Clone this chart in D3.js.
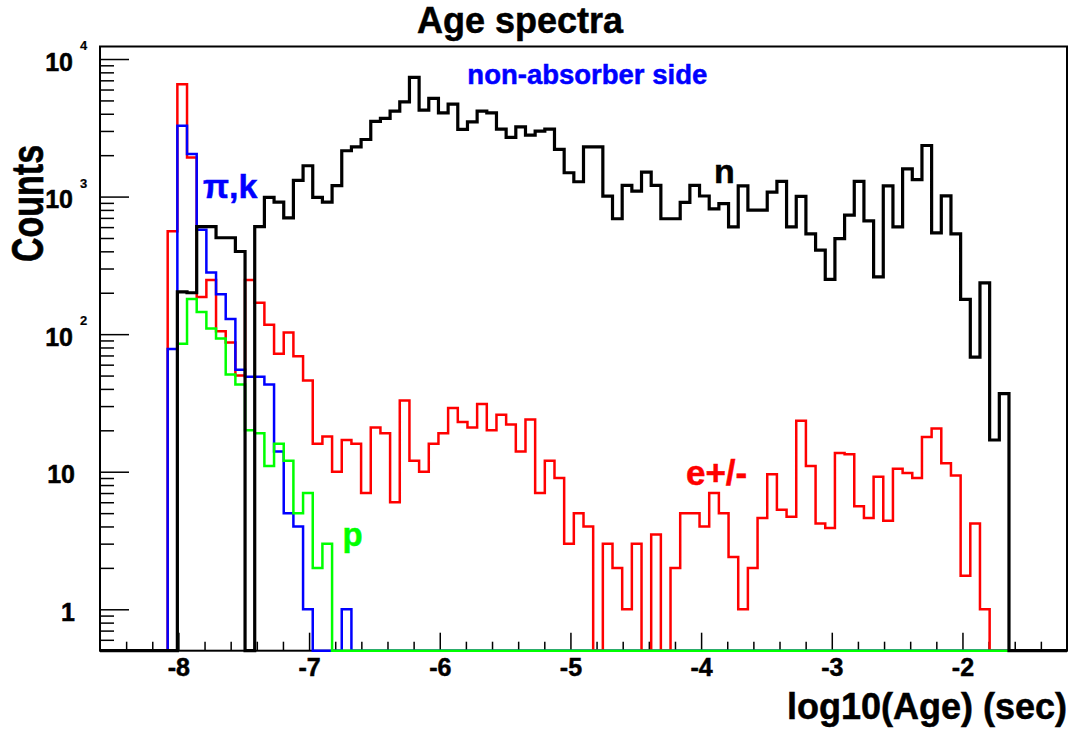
<!DOCTYPE html>
<html>
<head>
<meta charset="utf-8">
<script src="https://cdn.jsdelivr.net/npm/d3@7"></script>
<style>
  html, body { margin: 0; padding: 0; background: #fff; }
  svg { display: block; font-family: "Liberation Sans", Arial, Helvetica, sans-serif; font-weight: bold; }
  svg text { paint-order: stroke; stroke-width: 0.5px; }
</style>
</head>
<body>
<div id="chart"></div>
<script>
// binning of the histograms (log10 of age, 100 bins)
const xMin = -8.6, xMax = -1.2, nBins = 100;
const yMin = 0.5, yMax = 12330;

// bin contents, each list starts at the given bin index
const nStart = 8;
const nCounts = [203, 200, 605, 605, 502, 502, 399, 0, 605, 986, 911, 700, 1312, 1676, 986, 911,
  1202, 2153, 2300, 2600, 3520, 3700, 4180, 4886, 7350, 4254, 5170, 4062, 4700, 3077, 3497, 4180,
  4062, 3097, 2692, 3214, 2800, 2994, 3097, 2204, 1490, 1282, 2301, 2301, 1009, 690, 1206, 1096,
  1507, 1206, 690, 690, 908, 1206, 1010, 813, 888, 602, 1198, 798, 798, 1077, 1288, 602, 1002,
  535, 408, 250, 494, 734, 1288, 667, 261, 1198, 602, 1588, 1327, 2351, 544, 1013, 535, 179, 68,
  236, 17, 37];

const eStart = 7;
const eCounts = [560, 6550, 1925, 186, 248, 105, 87, 50, 248, 169, 117, 72, 103, 69, 46, 16, 18,
  10, 17, 16, 7, 21, 19, 6, 33, 12, 10, 16, 19, 29, 23, 21, 31, 20, 26, 22, 14, 24, 7, 12, 9, 3,
  5, 4, 0, 3, 2, 1, 3, 0, 3.5, 0, 2, 5, 5, 4, 7, 5, 2.4, 1, 2, 4.6, 9.6, 5.3, 4.7, 23.5, 11, 4.2,
  3.9, 13.7, 13.4, 5.6, 4.6, 9.2, 4.4, 10.5, 9.8, 9, 17.9, 20.6, 11.5, 9.4, 1.75, 4.2, 1];

const piStart = 7;
const piCounts = [78, 3266, 2042, 574, 281, 195, 129, 55, 49, 49, 43, 14, 5, 4, 1, 0, 0, 0, 1];

const pStart = 8;
const pCounts = [85, 180, 145, 110, 93, 51, 43, 20, 19, 11, 16, 12, 5, 7, 2, 3];

const xTicks = [-8, -7, -6, -5, -4, -3, -2];
const yTicks = [1, 10, 100, 1000, 10000];

// ---------------------------------------------------------------------------

const W = 1077, H = 731;
const margin = { left: 100, right: 10, top: 46.5, bottom: 80.3 };

const svg = d3.select('#chart').append('svg')
    .attr('width', W)
    .attr('height', H);

const x = d3.scaleLinear().domain([xMin, xMax]).range([margin.left, W - margin.right]);
const y = d3.scaleLog().domain([yMin, yMax]).range([H - margin.bottom, margin.top]).clamp(true);

const x0 = x.range()[0], x1 = x.range()[1];
const yB = y.range()[0], yT = y.range()[1];

// ── Axes (drawn first, the histograms sit on top of them) ──────────────────
const binW = (xMax - xMin) / nBins;
const xMinor = d3.range(-8.4, -1.3, 0.2)
    .map(v => Math.round(v * 10) / 10)
    .filter(v => !Number.isInteger(v));

svg.append('g')
    .attr('transform', `translate(0,${yB})`)
    .call(d3.axisBottom(x).tickValues(xMinor).tickSizeInner(-9).tickSizeOuter(0).tickFormat(''))
    .call(g => g.select('.domain').remove())
    .selectAll('line').attr('stroke', '#000').attr('stroke-width', 1.5);

svg.append('g')
    .attr('transform', `translate(0,${yB})`)
    .call(d3.axisBottom(x).tickValues(xTicks).tickSizeInner(-18).tickSizeOuter(0)
        .tickPadding(8).tickFormat(d => d3.format('d')(d).replace('−', '-')))
    .call(g => g.select('.domain').remove())
    .call(g => g.selectAll('line').attr('stroke', '#000').attr('stroke-width', 1.5))
    .call(g => g.selectAll('text')
        .attr('fill', '#000')
        .attr('stroke', '#000')
        .style('font-size', '25px')
        .style('font-weight', 'bold'));

const yMinor = [];
[0.1, 1, 10, 100, 1000].forEach(dec => {
    for (let m = 2; m <= 9; m++) {
        const v = m * dec;
        if (v >= yMin && v <= yMax) yMinor.push(v);
    }
});

svg.append('g')
    .attr('transform', `translate(${x0},0)`)
    .call(d3.axisLeft(y).tickValues(yMinor).tickSizeInner(-14).tickSizeOuter(0).tickFormat(''))
    .call(g => g.select('.domain').remove())
    .selectAll('line').attr('stroke', '#000').attr('stroke-width', 1.5);

svg.append('g')
    .attr('transform', `translate(${x0},0)`)
    .call(d3.axisLeft(y).tickValues(yTicks).tickSizeInner(-29).tickSizeOuter(0).tickFormat(''))
    .call(g => g.select('.domain').remove())
    .selectAll('line').attr('stroke', '#000').attr('stroke-width', 1.5);

// y tick labels: 1, 10, then 10^n with a raised exponent
const yLab = svg.append('g').attr('fill', '#000').attr('stroke', '#000');
yTicks.forEach(v => {
    const p = Math.round(Math.log10(v));
    if (p < 2) {
        yLab.append('text')
            .attr('x', 75).attr('y', y(v) + 11.5)
            .attr('text-anchor', 'end')
            .style('font-size', '25px')
            .text(String(v));
    } else {
        yLab.append('text')
            .attr('x', 73).attr('y', y(v) + 11.5)
            .attr('text-anchor', 'end')
            .style('font-size', '25px')
            .text('10');
        yLab.append('text')
            .attr('x', 80).attr('y', y(v) - 9)
            .style('font-size', '13px')
            .style('stroke-width', '0.2px')
            .text(String(p));
    }
});

// frame
svg.append('rect')
    .attr('x', x0).attr('y', yT)
    .attr('width', x1 - x0).attr('height', yB - yT)
    .attr('fill', 'none')
    .attr('stroke', '#000')
    .attr('stroke-width', 2);

// ── Histograms ─────────────────────────────────────────────────────────────
const series = [
    { key: 'e',  start: eStart,  counts: eCounts,  color: '#ff0000', width: 2.5 },
    { key: 'pi', start: piStart, counts: piCounts, color: '#0000ff', width: 2.5 },
    { key: 'p',  start: pStart,  counts: pCounts,  color: '#00ff00', width: 2.5 },
    { key: 'n',  start: nStart,  counts: nCounts,  color: '#000000', width: 3.2 }
];

const stepLine = d3.line()
    .x(d => x(d.x))
    .y(d => y(Math.max(d.v, yMin)))
    .curve(d3.curveStepAfter);

function binPoints(s) {
    const pts = d3.range(nBins).map(i => {
        const j = i - s.start;
        const v = (j >= 0 && j < s.counts.length) ? s.counts[j] : 0;
        return { x: xMin + i * binW, v };
    });
    pts.push({ x: xMax, v: pts[nBins - 1].v });
    return pts;
}

svg.append('g')
    .selectAll('path')
    .data(series)
    .join('path')
    .attr('d', s => stepLine(binPoints(s)))
    .attr('fill', 'none')
    .attr('stroke', s => s.color)
    .attr('stroke-width', s => s.width)
    .attr('stroke-linejoin', 'miter');

// ── Texts ──────────────────────────────────────────────────────────────────
svg.append('text')
    .attr('x', 520).attr('y', 33)
    .attr('text-anchor', 'middle')
    .attr('stroke', '#000')
    .style('font-size', '36px')
    .text('Age spectra');

// y title: ROOT draws it taller than wide, hence the stretch across the glyphs
svg.append('text')
    .attr('transform', `translate(43,203.5) rotate(-90) scale(1,1.28)`)
    .attr('text-anchor', 'middle')
    .attr('stroke', '#000')
    .style('font-size', '34px')
    .text('Counts');

svg.append('text')
    .attr('x', x1).attr('y', 719)
    .attr('text-anchor', 'end')
    .attr('stroke', '#000')
    .style('font-size', '36px')
    .text('log10(Age) (sec)');

const labels = [
    { text: 'non-absorber side', lx: -5.789, ly: 6570, color: '#0000ff', size: 27.5 },
    { text: 'n',                 lx: -3.902, ly: 1254, color: '#000000', size: 34 },
    { text: 'e+/-',              lx: -4.116, ly: 8.0,  color: '#ff0000', size: 35 },
    { text: 'p',                 lx: -6.744, ly: 2.88, color: '#00ff00', size: 33 },
    { text: 'π,k',               lx: -7.812, ly: 975,  color: '#0000ff', size: 34 }
];

svg.append('g')
    .selectAll('text')
    .data(labels)
    .join('text')
    .attr('x', d => x(d.lx))
    .attr('y', d => y(d.ly))
    .attr('fill', d => d.color)
    .attr('stroke', d => d.color)
    .style('font-size', d => d.size + 'px')
    .text(d => d.text);
</script>
</body>
</html>
